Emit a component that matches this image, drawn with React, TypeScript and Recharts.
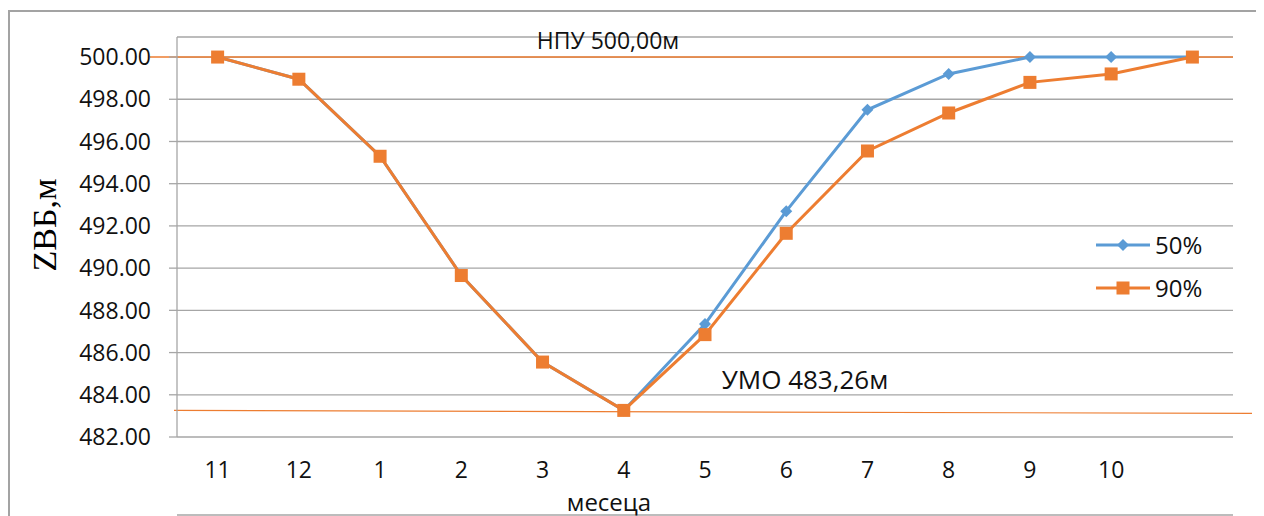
import {
    CartesianGrid,
    Label,
    Legend,
    Line,
    LineChart,
    ReferenceLine,
    XAxis,
    YAxis,
} from "recharts";

// months of the regulation cycle, the last slot is the closing point
const months = ["11", "12", "1", "2", "3", "4", "5", "6", "7", "8", "9", "10", ""];
const level50 = [500, 498.95, 495.3, 489.65, 485.55, 483.26, 487.35, 492.7, 497.5, 499.2, 500, 500, 500];
const level90 = [500, 498.95, 495.3, 489.65, 485.55, 483.26, 486.85, 491.65, 495.55, 497.35, 498.8, 499.2, 500];
const levelTicks = [482, 484, 486, 488, 490, 492, 494, 496, 498, 500];
const slotEdges = [0, 1, 2, 3, 4, 5, 6, 7, 8, 9, 10, 11, 12, 13];

const NPU = 500;
const UMO = 483.26;

const BLUE = "#5b9bd5";
const ORANGE = "#ed7d31";
const GRID = "#a6a6a6";
const FONT = "'Open Sans', sans-serif";

const data = months.map((m, i) => ({
    month: m,
    slot: i + 0.5,
    p50: level50[i],
    p90: level90[i],
}));

const Diamond = ({ cx, cy, fill, size = 6 }: any) => (
    <polygon
        points={`${cx},${cy - size} ${cx + size},${cy} ${cx},${cy + size} ${cx - size},${cy}`}
        fill={fill}
    />
);

const Square = ({ cx, cy, fill, size = 13 }: any) => (
    <rect x={cx - size / 2} y={cy - size / 2} width={size} height={size} fill={fill} />
);

const MonthTick = ({ x, y, payload }: any) => (
    <text x={x} y={y + 32} textAnchor="middle" dominantBaseline="central" fontSize={23} fontFamily={FONT} fill="#111">
        {payload.value}
    </text>
);

const legendItems = [
    { name: "50%", color: BLUE, marker: "diamond" },
    { name: "90%", color: ORANGE, marker: "square" },
];

const LegendBox = () => (
    <div>
        {legendItems.map((item) => (
            <div key={item.name} style={{ display: "flex", alignItems: "center", height: 43 }}>
                <svg width={54} height={20}>
                    <line x1={0} y1={10} x2={54} y2={10} stroke={item.color} strokeWidth={3} />
                    {item.marker === "diamond" ? (
                        <Diamond cx={27} cy={10} fill={item.color} />
                    ) : (
                        <Square cx={27} cy={10} fill={item.color} />
                    )}
                </svg>
                <span style={{ marginLeft: 5, fontSize: 24, fontFamily: FONT, color: "#111", lineHeight: 1 }}>
                    {item.name}
                </span>
            </div>
        ))}
    </div>
);

export default function App() {
    return (
        <div style={{ position: "relative", top: 2, width: 1250, height: 520 }}>
            <div
                style={{
                    position: "absolute",
                    left: 0,
                    top: 0,
                    width: 1246,
                    height: 520,
                    border: "2px solid #a3a3a3",
                }}
            />
            <div style={{ position: "absolute", left: 0, top: 0 }}>
                <LineChart width={1250} height={506} data={data} margin={{ top: 27, right: 25, left: 0, bottom: 0 }}>
                    <CartesianGrid vertical={false} stroke={GRID} strokeWidth={1.3} xAxisId="cat" />
                    <XAxis
                        xAxisId="edges"
                        type="number"
                        dataKey="slot"
                        domain={[0, 13]}
                        ticks={slotEdges}
                        interval={0}
                        tick={false}
                        tickSize={8}
                        height={1}
                        stroke={GRID}
                        strokeWidth={1.3}
                    />
                    <XAxis
                        xAxisId="cat"
                        dataKey="month"
                        scale="band"
                        height={78}
                        interval={0}
                        axisLine={false}
                        tickLine={false}
                        tickSize={0}
                        tickMargin={0}
                        tick={<MonthTick />}
                    >
                        <Label
                            content={({ viewBox }: any) => (
                                <text
                                    x={viewBox.x + 432}
                                    y={viewBox.y + 64}
                                    textAnchor="middle"
                                    dominantBaseline="central"
                                    fontSize={24}
                                    fontFamily={FONT}
                                    fill="#111"
                                >
                                    месеца
                                </text>
                            )}
                        />
                    </XAxis>
                    <YAxis
                        width={169}
                        domain={[482, 500.95]}
                        ticks={levelTicks}
                        interval={0}
                        allowDataOverflow
                        stroke={GRID}
                        strokeWidth={1.3}
                        tickSize={8}
                        tickMargin={18}
                        tick={{ fill: "#111", fontSize: 23, fontFamily: FONT }}
                        tickFormatter={(v) => v.toFixed(2)}
                    >
                        <Label
                            content={({ viewBox }: any) => {
                                const cx = viewBox.x + 36;
                                const cy = viewBox.y + viewBox.height / 2 - 12;
                                return (
                                    <text
                                        x={cx}
                                        y={cy}
                                        transform={`rotate(-90, ${cx}, ${cy})`}
                                        textAnchor="middle"
                                        dominantBaseline="central"
                                        fontSize={34}
                                        fontFamily="'Liberation Serif', serif"
                                        fill="#000"
                                    >
                                        ZВБ,м
                                    </text>
                                );
                            }}
                        />
                    </YAxis>
                    <ReferenceLine
                        xAxisId="cat"
                        y={NPU}
                        shape={(p: any) => (
                            <line x1={p.x1 - 27} y1={p.y1} x2={p.x2} y2={p.y2} stroke={ORANGE} strokeWidth={1.5} />
                        )}
                        label={{
                            value: "НПУ 500,00м",
                            position: "top",
                            offset: 8,
                            dx: -97,
                            fill: "#111",
                            fontSize: 23,
                            fontFamily: FONT,
                        }}
                    />
                    <ReferenceLine
                        xAxisId="cat"
                        y={UMO}
                        shape={(p: any) => (
                            <line x1={p.x1 - 3} y1={p.y1} x2={p.x2 + 19} y2={p.y2 + 3} stroke={ORANGE} strokeWidth={1.2} />
                        )}
                        label={{
                            value: "УМО 483,26м",
                            position: "top",
                            offset: 21,
                            dx: 100,
                            fill: "#111",
                            fontSize: 26,
                            fontFamily: FONT,
                        }}
                    />
                    <Legend
                        layout="horizontal"
                        verticalAlign="middle"
                        align="center"
                        content={<LegendBox />}
                        wrapperStyle={{ position: "absolute", left: 1088, top: 213, width: 150 }}
                    />
                    <Line
                        xAxisId="cat"
                        dataKey="p50"
                        name="50%"
                        stroke={BLUE}
                        strokeWidth={3}
                        type="linear"
                        dot={(p: any) => <Diamond key={p.index} cx={p.cx} cy={p.cy} fill={BLUE} />}
                        isAnimationActive={false}
                    />
                    <Line
                        xAxisId="cat"
                        dataKey="p90"
                        name="90%"
                        stroke={ORANGE}
                        strokeWidth={3}
                        type="linear"
                        dot={(p: any) => <Square key={p.index} cx={p.cx} cy={p.cy} fill={ORANGE} />}
                        isAnimationActive={false}
                    />
                </LineChart>
            </div>
        </div>
    );
}
